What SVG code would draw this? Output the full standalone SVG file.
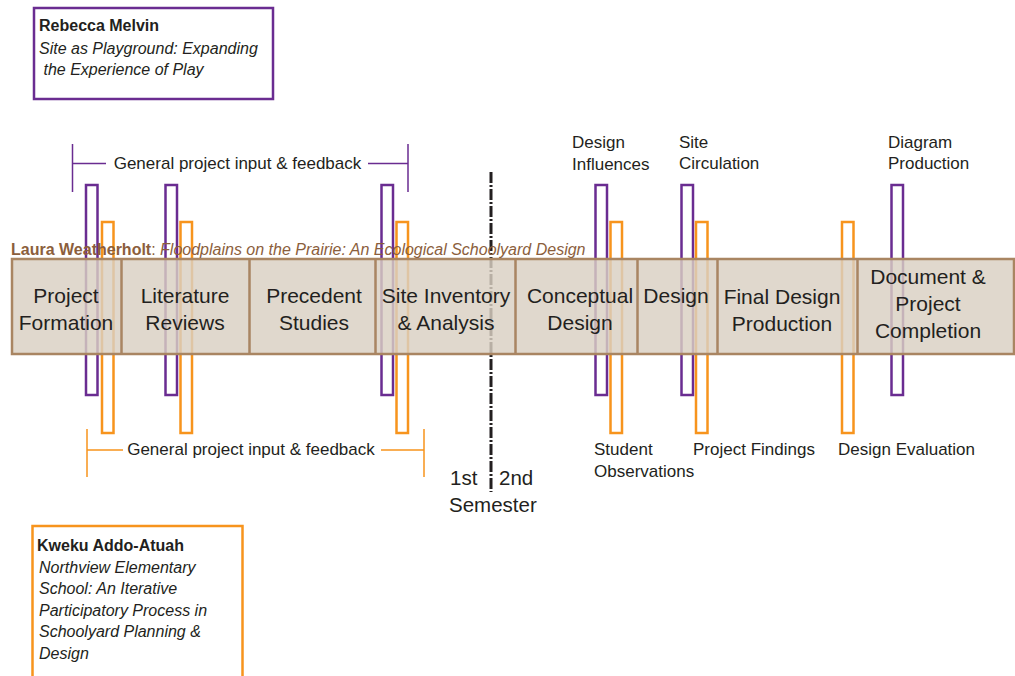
<svg xmlns="http://www.w3.org/2000/svg" width="1015" height="676" viewBox="0 0 1015 676">
  <style>
    text { font-family: "Liberation Sans", "DejaVu Sans", sans-serif; fill: #231f20; }
    .phase { font-size: 21px; text-anchor: middle; }
    .note { font-size: 17px; }
    .name { font-size: 16px; font-weight: bold; }
    .title { font-size: 16px; font-style: italic; }
    .pbar { fill: #ffffff; stroke: #6a2c91; stroke-width: 2.5; }
    .obar { fill: #ffffff; stroke: #f7941d; stroke-width: 2.5; }
    .pline { stroke: #6a2c91; stroke-width: 1.5; fill: none; }
    .oline { stroke: #f7941d; stroke-width: 1.5; fill: none; }
    .band { fill: #d9d0c2; fill-opacity: 0.82; stroke: #a98562; stroke-width: 2.5; }
    .divider { stroke: #a98562; stroke-width: 2.5; }
  </style>

  <!-- author boxes -->
  <g id="author-melvin">
    <rect x="34" y="8" width="239" height="91" fill="#ffffff" stroke="#6a2c91" stroke-width="2.5"/>
    <text class="name" x="39" y="31">Rebecca Melvin</text>
    <text class="title" x="39" y="54">Site as Playground: Expanding</text>
    <text class="title" x="39" y="75" xml:space="preserve"> the Experience of Play</text>
  </g>
  <g id="author-addo-atuah">
    <rect x="32.5" y="526" width="210" height="160" fill="#ffffff" stroke="#f7941d" stroke-width="2.5"/>
    <text class="name" x="37" y="551">Kweku Addo-Atuah</text>
    <text class="title" x="39" y="573">Northview Elementary</text>
    <text class="title" x="39" y="594">School: An Iterative</text>
    <text class="title" x="39" y="616">Participatory Process in</text>
    <text class="title" x="39" y="637">Schoolyard Planning &amp;</text>
    <text class="title" x="39" y="659">Design</text>
  </g>

  <!-- feedback brackets -->
  <g id="connectors">
    <path class="pline" d="M72.5,144 V192 M408,144 V192 M72.5,163.5 H106 M368,163.5 H408"/>
    <text class="note" x="237.5" y="169" text-anchor="middle">General project input &amp; feedback</text>
    <path class="oline" d="M87,429 V477 M424,429 V477 M87,450 H123 M381,450 H424"/>
    <text class="note" x="251" y="455" text-anchor="middle">General project input &amp; feedback</text>
    <!-- semester split -->
    <line x1="491" y1="172" x2="491" y2="492" stroke="#231f20" stroke-width="3" stroke-dasharray="11 2 2 2"/>
  </g>

  <!-- review bars -->
  <g id="purple-bars">
    <rect class="pbar" x="86" y="185" width="11.5" height="210"/>
    <rect class="pbar" x="165.5" y="185" width="11.5" height="210"/>
    <rect class="pbar" x="381.5" y="185" width="11.5" height="210"/>
    <rect class="pbar" x="595.5" y="185" width="11.5" height="210"/>
    <rect class="pbar" x="681.5" y="185" width="11.5" height="210"/>
    <rect class="pbar" x="891.5" y="185" width="11.5" height="210"/>
  </g>
  <g id="orange-bars">
    <rect class="obar" x="102" y="222" width="11.5" height="211"/>
    <rect class="obar" x="180.5" y="222" width="11.5" height="211"/>
    <rect class="obar" x="396.5" y="222" width="11.5" height="211"/>
    <rect class="obar" x="610.5" y="222" width="11.5" height="211"/>
    <rect class="obar" x="696" y="222" width="11.5" height="211"/>
    <rect class="obar" x="842" y="222" width="11.5" height="211"/>
  </g>

  <!-- project phases -->
  <g id="phase-band">
    <rect class="band" x="12" y="259" width="1002" height="95"/>
    <line class="divider" x1="121.5" y1="259" x2="121.5" y2="354"/>
    <line class="divider" x1="249.5" y1="259" x2="249.5" y2="354"/>
    <line class="divider" x1="375.5" y1="259" x2="375.5" y2="354"/>
    <line class="divider" x1="515.5" y1="259" x2="515.5" y2="354"/>
    <line class="divider" x1="637.5" y1="259" x2="637.5" y2="354"/>
    <line class="divider" x1="717.5" y1="259" x2="717.5" y2="354"/>
    <line class="divider" x1="857.5" y1="259" x2="857.5" y2="354"/>
  </g>
  <text x="11" y="255" font-size="16" style="fill:#8b5e3c"><tspan font-weight="bold">Laura Weatherholt</tspan>: <tspan font-style="italic">Floodplains on the Prairie: An Ecological Schoolyard Design</tspan></text>

  <g id="phase-project-formation"><text class="phase" x="66" y="303">Project</text><text class="phase" x="66" y="330">Formation</text></g>
  <g id="phase-literature-reviews"><text class="phase" x="185" y="303">Literature</text><text class="phase" x="185" y="330">Reviews</text></g>
  <g id="phase-precedent-studies"><text class="phase" x="314" y="303">Precedent</text><text class="phase" x="314" y="330">Studies</text></g>
  <g id="phase-site-inventory"><text class="phase" x="446" y="303">Site Inventory</text><text class="phase" x="446" y="330">&amp; Analysis</text></g>
  <g id="phase-conceptual-design"><text class="phase" x="580" y="303">Conceptual</text><text class="phase" x="580" y="330">Design</text></g>
  <g id="phase-design"><text class="phase" x="676" y="303">Design</text></g>
  <g id="phase-final-design"><text class="phase" x="782" y="304">Final Design</text><text class="phase" x="782" y="331">Production</text></g>
  <g id="phase-completion"><text class="phase" x="928" y="284">Document &amp;</text><text class="phase" x="928" y="311">Project</text><text class="phase" x="928" y="338">Completion</text></g>

  <!-- bar labels -->
  <g id="label-design-influences"><text class="note" x="572" y="148">Design</text><text class="note" x="572" y="170">Influences</text></g>
  <g id="label-site-circulation"><text class="note" x="679" y="148">Site</text><text class="note" x="679" y="169">Circulation</text></g>
  <g id="label-diagram-production"><text class="note" x="888" y="148">Diagram</text><text class="note" x="888" y="169">Production</text></g>
  <g id="label-student-observations"><text class="note" x="594" y="455">Student</text><text class="note" x="594" y="477">Observations</text></g>
  <g id="label-project-findings"><text class="note" x="693" y="455">Project Findings</text></g>
  <g id="label-design-evaluation"><text class="note" x="838" y="455">Design Evaluation</text></g>

  <g id="semester">
    <text x="450" y="485" font-size="20.5">1st</text>
    <text x="499" y="485" font-size="20.5">2nd</text>
    <text x="449" y="512" font-size="20.5">Semester</text>
  </g>
</svg>
